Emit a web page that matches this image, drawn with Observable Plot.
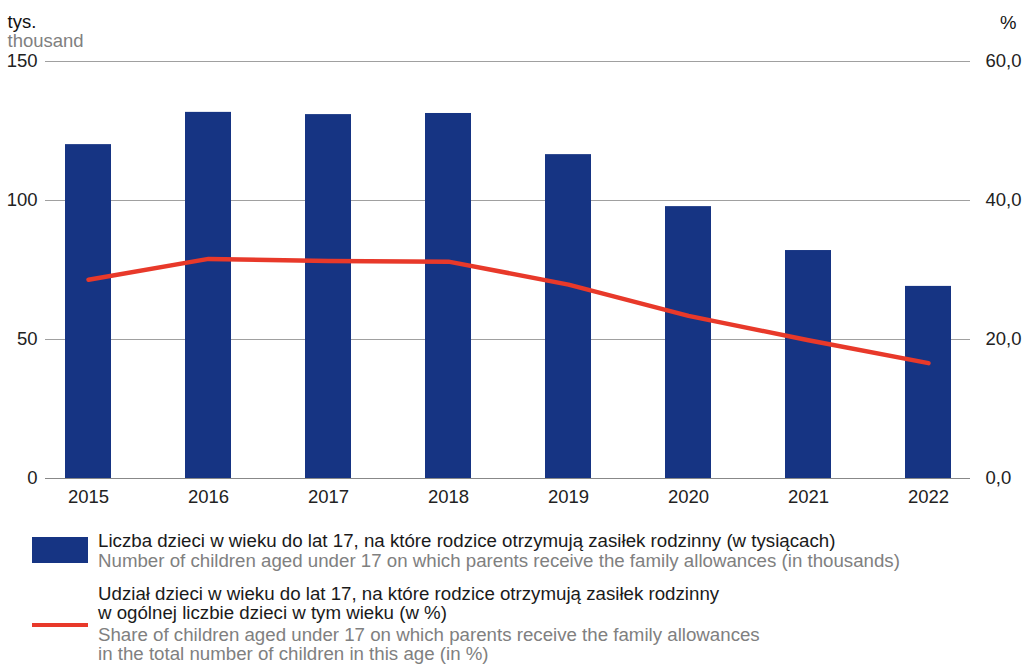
<!DOCTYPE html>
<html>
<head>
<meta charset="utf-8">
<script src="https://cdn.jsdelivr.net/npm/d3@7"></script>
<script src="https://cdn.jsdelivr.net/npm/@observablehq/plot@0.6"></script>
<style>
  body { margin: 0; background: #fff; font-family: "Liberation Sans", Arial, sans-serif; }
  #wrap { position: relative; width: 1031px; height: 665px; }
  .leg { position: absolute; font-size: 18.7px; white-space: nowrap; }
  .pl { color: #1a1a1a; }
  .en { color: #808080; }
</style>
</head>
<body>
<div id="wrap">
  <div id="chart"></div>
  <div class="leg" style="left:32px; top:537px; width:56px; height:26px; background:#163483;"></div>
  <div class="leg" style="left:98px; top:531px; line-height:19.5px;">
    <div class="pl">Liczba dzieci w wieku do lat 17, na które rodzice otrzymują zasiłek rodzinny (w tysiącach)</div>
    <div class="en">Number of children aged under 17 on which parents receive the family allowances (in thousands)</div>
  </div>
  <div class="leg" style="left:32px; top:623px; width:56px; height:4px; background:#e8392a;"></div>
  <div class="leg" style="left:98px; top:583.5px; line-height:19.5px;">
    <div class="pl">Udział dzieci w wieku do lat 17, na które rodzice otrzymują zasiłek rodzinny<br>w ogólnej liczbie dzieci w tym wieku (w %)</div>
    <div class="en" style="margin-top:2px;">Share of children aged under 17 on which parents receive the family allowances<br>in the total number of children in this age (in %)</div>
  </div>
</div>
<script>
const years = ["2015", "2016", "2017", "2018", "2019", "2020", "2021", "2022"];
const children = [120.1, 131.7, 130.9, 131.3, 116.5, 97.8, 82.0, 69.1];
const share = [28.6, 31.6, 31.3, 31.2, 27.9, 23.4, 19.9, 16.6];
const leftTicks = [0, 50, 100, 150];
const rightTicks = [0, 20, 40, 60];

const ratio = 150 / 60;
const data = years.map((y, i) => ({year: y, children: children[i], share: share[i]}));

const chart = Plot.plot({
  width: 1031,
  height: 510,
  marginLeft: 45,
  marginRight: 61,
  marginTop: 61,
  marginBottom: 32,
  style: {fontFamily: "Liberation Sans, Arial, sans-serif", fontSize: "18.5px", color: "#222", background: "#fff"},
  x: {type: "band", domain: years, paddingInner: 0.618, paddingOuter: 0.15, label: null},
  y: {domain: [0, 150], label: null},
  marks: [
    Plot.ruleY(leftTicks.filter(d => d > 0), {stroke: "#a0a0a0", strokeWidth: 1}),
    Plot.barY(data, {x: "year", y: "children", fill: "#163483"}),
    Plot.ruleY([0], {stroke: "#888", strokeWidth: 1}),
    Plot.line(data, {x: "year", y: d => d.share * ratio, stroke: "#e8392a", strokeWidth: 4.5, strokeLinejoin: "round", strokeLinecap: "round"}),
    Plot.axisY(leftTicks, {anchor: "left", tickSize: 0, tickPadding: 8, label: null}),
    Plot.axisY(rightTicks.map(v => v * ratio), {anchor: "right", tickSize: 0, tickPadding: 15, label: null,
      tickFormat: d => (d / ratio).toFixed(1).replace(".", ",")}),
    Plot.axisX({tickSize: 0, tickPadding: 11, label: null}),
    Plot.text(["tys."], {frameAnchor: "top-left", dx: -38, dy: -47, textAnchor: "start", fill: "#111"}),
    Plot.text(["thousand"], {frameAnchor: "top-left", dx: -38, dy: -28, textAnchor: "start", fill: "#808080"}),
    Plot.text(["%"], {frameAnchor: "top-right", dx: 46, dy: -46, textAnchor: "end", fill: "#111"})
  ]
});
document.getElementById("chart").appendChild(chart);
</script>
</body>
</html>
